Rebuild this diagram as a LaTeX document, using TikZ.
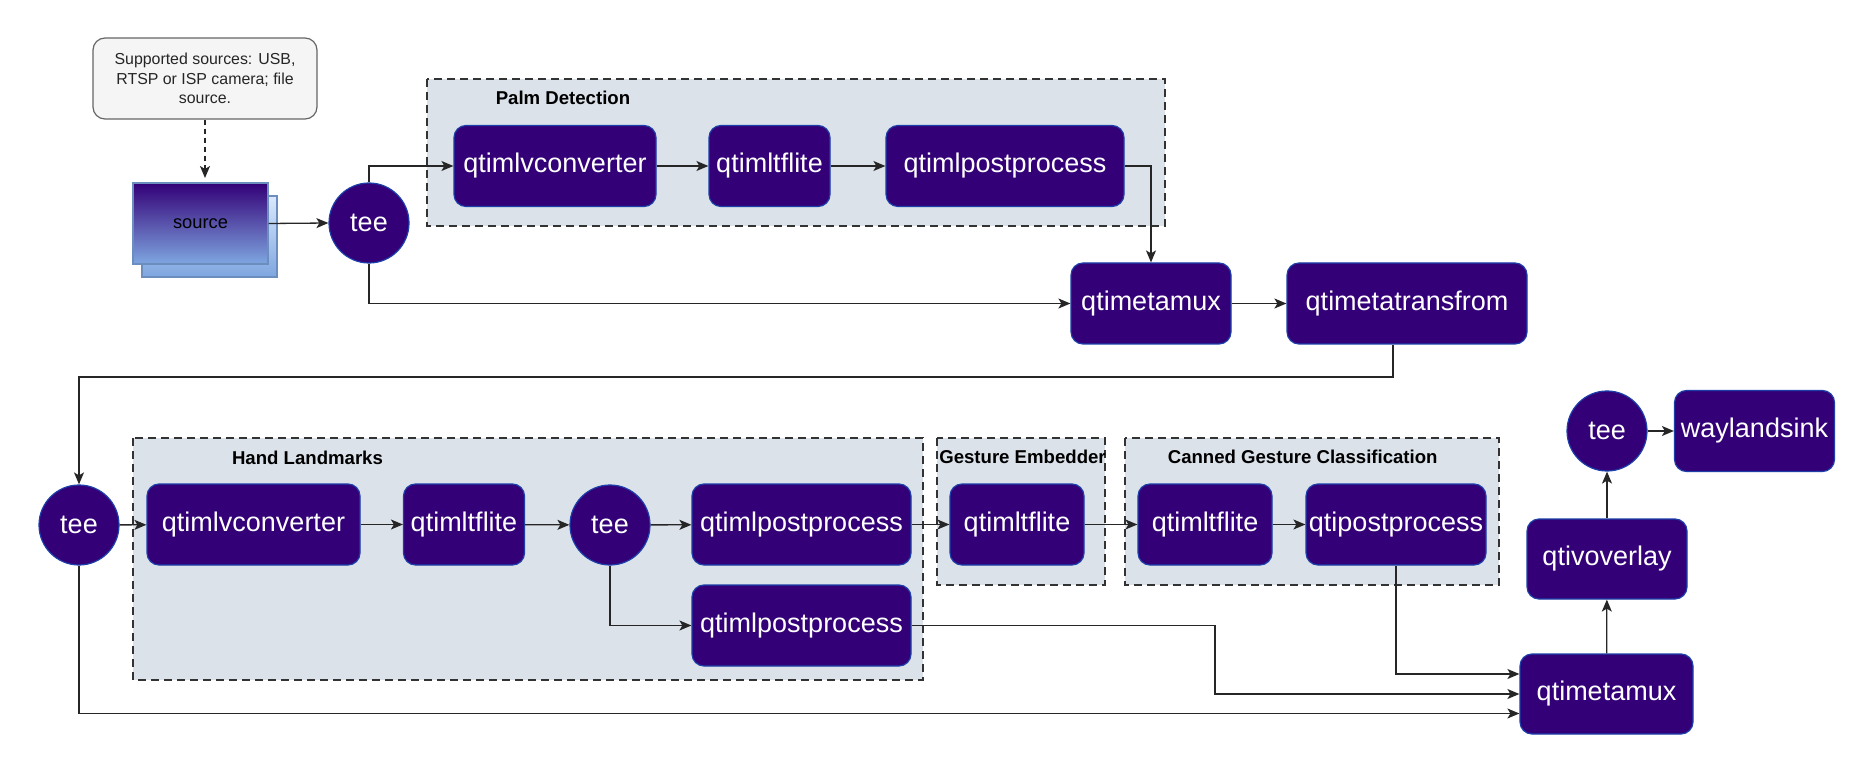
\documentclass[tikz,border=0pt]{standalone}
\usepackage{fontspec}
\setmainfont{Liberation Sans}
\usetikzlibrary{arrows.meta,positioning,calc}
\definecolor{nodefill}{HTML}{330077}
\definecolor{nodeline}{HTML}{1C3FAA}
\definecolor{grpfill}{HTML}{DBE2EA}
\definecolor{callfill}{HTML}{F5F5F5}
\definecolor{callline}{HTML}{666666}
\definecolor{srcline}{HTML}{6C8EBF}
\definecolor{srcbot}{HTML}{7EA6E0}
\definecolor{srctop}{HTML}{DAE8FC}
\begin{document}
\begin{tikzpicture}[x=1pt,y=-1pt,
  proc/.style={rectangle,rounded corners=12pt,fill=nodefill,draw=nodeline,line width=1.2pt,
    text=white,font=\fontsize{27}{30}\selectfont,inner sep=0pt,minimum height=81pt},
  teenode/.style={circle,fill=nodefill,draw=nodeline,line width=1.2pt,text=white,
    font=\fontsize{27}{30}\selectfont,minimum size=80pt,inner sep=0pt},
  grp/.style={fill=grpfill,draw=black!80,dash pattern=on 8pt off 5pt,line width=1.3pt},
  grplabel/.style={font=\bfseries\fontsize{18.6}{22}\selectfont,text=black,inner sep=0pt},
  arr/.style={draw=black!85,line width=1.3pt,-{Stealth[length=12pt,width=10pt,inset=3pt]}},
]
\useasboundingbox (0,0) rectangle (1874,775);
\fill[white] (0,0) rectangle (1874,775);

% groups
\path[grp] (427,79) rectangle (1165,226);
\node[grplabel] (lpalm) at (563,98) {Palm Detection};
\path[grp] (133,438) rectangle (923,680);
\node[grplabel] (lhand) at (307.5,458) {Hand Landmarks};
\path[grp] (937,438) rectangle (1105,585);
\node[grplabel] (lgest) at (1022.5,457) {Gesture Embedder};
\path[grp] (1125,438) rectangle (1499,585);
\node[grplabel] (lcan) at (1302.7,457) {Canned Gesture Classification};

% callout
\node[rectangle,rounded corners=12pt,fill=callfill,draw=callline,line width=1.2pt,
  minimum width=224pt,minimum height=81pt,align=center,text=black!85,
  font=\fontsize{15.9}{19.5}\selectfont] (call) at (205,78.5)
  {Supported sources: USB,\\RTSP or ISP camera; file\\source.};

% source (stacked)
\path[top color=srctop,bottom color=srcbot,draw=srcline,line width=1.2pt] (142,196) rectangle (277,277);
\node[rectangle,top color=nodefill,bottom color=srcbot,draw=srcline,line width=1.2pt,
  minimum width=135pt,minimum height=81pt,inner sep=0pt,text=black,
  font=\fontsize{18.3}{22}\selectfont] (src) at (200.5,223.5) {source};

% top row
\node[teenode] (tee1) at (369,223) {tee};
\node[proc,minimum width=202pt] (pconv) at (555,166) {qtimlvconverter};
\node[proc,minimum width=121pt] (plite) at (769.5,166) {qtimltflite};
\node[proc,minimum width=238pt] (ppost) at (1005,166) {qtimlpostprocess};
\node[proc,minimum width=160pt] (mux1) at (1151,303.5) {qtimetamux};
\node[proc,minimum width=240pt] (trans) at (1407,303.5) {qtimetatransfrom};

% lower row
\node[teenode] (tee2) at (79,525) {tee};
\node[proc,minimum width=213pt] (hconv) at (253.5,524.5) {qtimlvconverter};
\node[proc,minimum width=121pt] (hlite) at (464,524.5) {qtimltflite};
\node[teenode] (tee3) at (610,525) {tee};
\node[proc,minimum width=219pt] (pp1) at (801.5,524.5) {qtimlpostprocess};
\node[proc,minimum width=219pt] (pp2) at (801.5,625.5) {qtimlpostprocess};
\node[proc,minimum width=134pt] (glite) at (1017,524.5) {qtimltflite};
\node[proc,minimum width=134pt] (clite) at (1205,524.5) {qtimltflite};
\node[proc,minimum width=180pt] (cpost) at (1396,524.5) {qtipostprocess};
\node[proc,minimum width=173pt,minimum height=80pt] (fmux) at (1606.5,694) {qtimetamux};
\node[proc,minimum width=160pt,minimum height=80pt] (ovl) at (1607,559) {qtivoverlay};
\node[teenode] (tee4) at (1607,431) {tee};
\node[proc,minimum width=160pt] (wl) at (1754.5,431) {waylandsink};

\coordinate (c1) at (1393,377);
\coordinate (c2) at (1215,625.5);

% connectors
\draw[arr,dash pattern=on 5pt off 4pt] (call.south) -- (call.south |- 0,178);
\draw[arr] (src.east) -- (tee1.west);
\draw[arr] (tee1.north) |- (pconv.west);
\draw[arr] (pconv) -- (plite);
\draw[arr] (plite) -- (ppost);
\draw[arr] (ppost.east) -| (mux1.north);
\draw[arr] (tee1.south) |- (mux1.west);
\draw[arr] (mux1) -- (trans);
\draw[arr] ([xshift=-14pt]trans.south) |- (c1) -| (tee2.north);
\draw[arr] (tee2) -- (hconv);
\draw[arr] (hconv) -- (hlite);
\draw[arr] (hlite) -- (tee3);
\draw[arr] (tee3) -- (pp1);
\draw[arr] (tee3.south) |- (pp2.west);
\draw[arr] (pp1) -- (glite);
\draw[arr] (glite) -- (clite);
\draw[arr] (clite) -- (cpost);
\draw[arr] (pp2.east) -- (c2) |- (fmux.west);
\draw[arr] (cpost.south) |- ([yshift=20pt]fmux.west);
\draw[arr] (tee2.south) |- ([yshift=-19.5pt]fmux.west);
\draw[arr] (fmux) -- (ovl);
\draw[arr] (ovl) -- (tee4);
\draw[arr] (tee4) -- (wl);
\end{tikzpicture}
\end{document}
